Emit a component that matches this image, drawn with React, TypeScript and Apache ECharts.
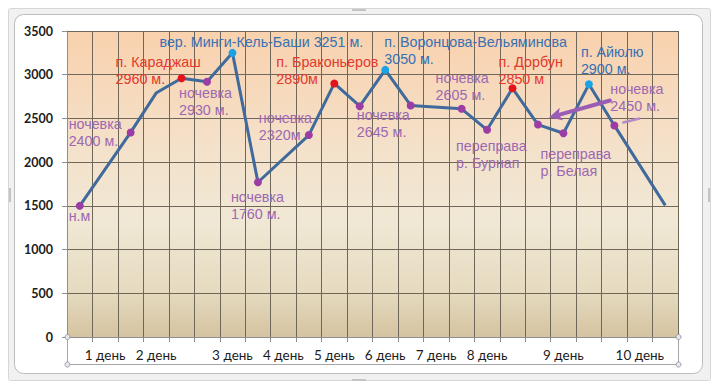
import React, { useEffect, useRef } from "react";
import * as echarts from "echarts";

// Category tick labels (24 equal slots along the route)
const dayLabels = [
  "", "1 день", "", "2 день", "", "", "3 день", "", "4 день", "", "5 день", "",
  "6 день", "", "7 день", "", "8 день", "", "", "9 день", "", "", "10 день", "",
];

// Altitude profile, metres (null = no point, line drawn straight through)
const altitudes: (number | null)[] = [
  1500, null, 2340, 2790, 2960, 2920, 3250, 1770, null, 2310, 2900, 2640,
  3055, 2648, null, 2610, 2370, 2845, 2430, 2330, 2890, 2420, null, 1505,
];

// Point kind: camp (ночевка / переправа), pass (red), peak / blue pass
const pointKinds = [
  "camp", "", "camp", "", "pass", "camp", "peak", "camp", "", "camp", "pass", "camp",
  "peak", "camp", "", "camp", "camp", "pass", "camp", "camp", "peak", "camp", "", "",
];

// Annotation texts
const pointNotes = [
  "н.м", "", "ночевка\n2400 м.", "", "п. Караджаш\n2960 м.", "ночевка\n2930 м.",
  "вер. Минги-Кель-Баши 3251 м.", "ночевка\n1760 м.", "", "ночевка\n2320м",
  "п. Браконьеров\n2890м", "ночевка\n2645 м.", "п. Воронцова-Вельяминова\n3050 м.", "", "",
  "ночевка\n2605 м.", "переправа\nр. Бурнап", "п. Дорбун\n2850 м", "", "переправа\nр. Белая",
  "п. Айюлю\n2900 м.", "ночевка\n2450 м.", "", "",
];

const yMin = 0;
const yMax = 3500;
const yStep = 500;

// ---- styling ----
const markerColors: Record<string, string> = {
  camp: "#9a3ea6",
  pass: "#e3141c",
  peak: "#1ba2e6",
};
const noteColors: Record<string, string> = {
  camp: "#9d68b2",
  pass: "#e3392e",
  peak: "#3671b4",
};
// label offset from point: [left edge dx, first-line centre dy]
const noteOffsets: Record<number, [number, number]> = {
  0: [-11, 10],
  2: [-62, -8],
  4: [-66, -16],
  5: [-28, 11],
  6: [-73, -11],
  7: [-27, 15],
  9: [-50, -17],
  10: [-58, -21],
  11: [-3, 9],
  12: [-1, -28],
  15: [-26, -31],
  16: [-31, 16],
  17: [-14, -26],
  19: [-23, 21],
  20: [-8, -32],
  21: [-4, -36],
};
const SYM = 8;
const LH = 17;

export default function App() {
  const ref = useRef<HTMLDivElement>(null);

  useEffect(() => {
    if (!ref.current) return;
    const chart = echarts.init(ref.current, undefined, { renderer: "svg" });

    const data = altitudes.map((v, i) => {
      const kind = pointKinds[i];
      const note = pointNotes[i];
      const off = noteOffsets[i] || [0, 0];
      const item: any = {
        value: v,
        symbol: kind ? "circle" : "none",
        symbolSize: SYM,
        itemStyle: { color: kind ? markerColors[kind] : "#3f6a9b" },
      };
      if (note) {
        item.label = {
          show: true,
          formatter: note,
          position: [off[0] + SYM / 2, off[1] - LH / 2 + SYM / 2],
          align: "left",
          verticalAlign: "top",
          color: noteColors[kind] || noteColors.camp,
          fontFamily: "Liberation Sans, Arial, sans-serif",
          fontSize: 14.3,
          lineHeight: LH,
        };
      }
      return item;
    });

    const frame: any[] = [
      {
        type: "rect",
        z: -20,
        shape: { x: 8.5, y: 8.5, width: 702, height: 372, r: 2 },
        style: { fill: "#f1f1f1", stroke: "#d6d6d6", lineWidth: 1 },
      },
      {
        type: "rect",
        z: -19,
        shape: { x: 14.5, y: 14.5, width: 688, height: 359, r: 9 },
        style: { fill: "#ffffff", stroke: "#bdbdbd", lineWidth: 1 },
      },
      // selection bracket below the axis
      {
        type: "polyline",
        z: 5,
        shape: { points: [[67.5, 337], [67.5, 364.5], [678.5, 364.5], [678.5, 337]] },
        style: { fill: "none", stroke: "#a6a6a6", lineWidth: 1 },
      },
      ...[
        [67.5, 337],
        [67.5, 364.5],
        [678.5, 337],
        [678.5, 364.5],
      ].map((p) => ({
        type: "circle",
        z: 6,
        shape: { cx: p[0], cy: p[1], r: 2.5 },
        style: { fill: "#e8e8ee", stroke: "#9a9aa6", lineWidth: 1 },
      })),
      // frame handles
      ...[
        [352, 9, 14, 2],
        [352, 379, 14, 2],
        [9, 188, 2, 14],
        [708, 188, 2, 14],
      ].map((r) => ({
        type: "rect",
        z: -18,
        shape: { x: r[0], y: r[1], width: r[2], height: r[3] },
        style: { fill: "#c4c4c4" },
      })),
    ];

    const option: any = {
      animation: false,
      grid: {
        left: 67,
        right: 40,
        top: 31,
        bottom: 51,
        show: true,
        borderWidth: 0,
        backgroundColor: new echarts.graphic.LinearGradient(0, 0, 0, 1, [
          { offset: 0, color: "#f9d1ad" },
          { offset: 0.38, color: "#f4e1ca" },
          { offset: 0.62, color: "#f0e8d5" },
          { offset: 0.85, color: "#e6dbc0" },
          { offset: 1, color: "#d4c3a0" },
        ]),
      },
      xAxis: {
        type: "category",
        data: dayLabels,
        boundaryGap: true,
        axisLine: { show: true, lineStyle: { color: "#8e8e8e", width: 1 } },
        axisTick: { show: true, interval: 0, length: 5, lineStyle: { color: "#8e8e8e" } },
        axisLabel: {
          interval: 0,
          margin: 11,
          color: "#1c1c1c",
          fontFamily: "Lato, 'Open Sans', sans-serif",
          fontSize: 13.5,
        },
        splitLine: { show: true, interval: 0, lineStyle: { color: "#6f6759", width: 1 } },
      },
      yAxis: {
        type: "value",
        min: yMin,
        max: yMax,
        interval: yStep,
        axisLine: { show: true, lineStyle: { color: "#8e8e8e", width: 1 } },
        axisTick: { show: true, length: 5, lineStyle: { color: "#8e8e8e" } },
        axisLabel: {
          margin: 14,
          formatter: (v: number) => String(v),
          color: "#1c1c1c",
          fontFamily: "Lato, 'Open Sans', sans-serif",
          fontWeight: "bold",
          fontSize: 12.5,
        },
        splitLine: { show: true, lineStyle: { color: "#6f6759", width: 1 } },
      },
      series: [
        {
          type: "line",
          data,
          connectNulls: true,
          showAllSymbol: true,
          lineStyle: { color: "#3f6a9b", width: 3 },
          z: 3,
        },
      ],
      graphic: { elements: frame },
    };

    chart.setOption(option);

    // arrows pointing from the "ночевка 2450 м." note to the points
    const a = chart.convertToPixel({ xAxisIndex: 0, yAxisIndex: 0 }, [18, altitudes[18] as number]) as number[];
    const b = chart.convertToPixel({ xAxisIndex: 0, yAxisIndex: 0 }, [21, altitudes[21] as number]) as number[];
    const start = [a[0] + 72, a[1] - 24];
    const tip = [a[0] + 11, a[1] - 7];
    const dx = tip[0] - start[0];
    const dy = tip[1] - start[1];
    const len = Math.sqrt(dx * dx + dy * dy);
    const ux = dx / len;
    const uy = dy / len;
    const headL = 13;
    const headW = 6.5;
    const base = [tip[0] - ux * headL, tip[1] - uy * headL];
    const arrows: any[] = [
      {
        type: "line",
        z: 20,
        shape: { x1: start[0], y1: start[1], x2: base[0] + ux * 2, y2: base[1] + uy * 2 },
        style: { stroke: "#9a5db4", lineWidth: 4, lineCap: "round" },
      },
      {
        type: "polygon",
        z: 20,
        shape: {
          points: [
            tip,
            [base[0] - uy * headW, base[1] + ux * headW],
            [base[0] + ux * 3, base[1] + uy * 3],
            [base[0] + uy * headW, base[1] - ux * headW],
          ],
        },
        style: { fill: "#9a5db4" },
      },
      {
        type: "line",
        z: 20,
        shape: { x1: b[0] + 25, y1: b[1] - 7, x2: b[0] + 9, y2: b[1] - 3 },
        style: { stroke: "#b48bc6", lineWidth: 2.5, lineCap: "round" },
      },
    ];

    chart.setOption({ graphic: { elements: [...frame, ...arrows] } });

    return () => chart.dispose();
  }, []);

  return (
    <div
      ref={ref}
      style={{ position: "absolute", left: 0, top: 0, width: 718, height: 388 }}
    />
  );
}
